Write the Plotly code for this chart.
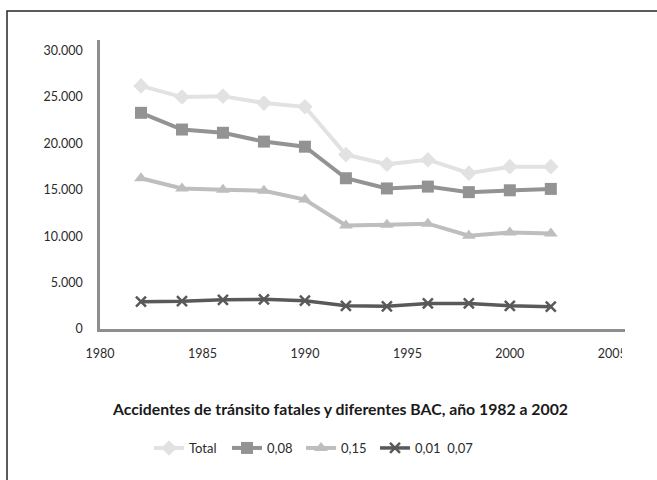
import plotly.graph_objects as go

# Fatal traffic accidents by blood alcohol concentration (BAC), 1982-2002
years = [1982, 1984, 1986, 1988, 1990, 1992, 1994, 1996, 1998, 2000, 2002]
total = [26200, 25000, 25100, 24350, 23950, 18800, 17750, 18250, 16800, 17500, 17500]
bac_008 = [23300, 21500, 21150, 20200, 19650, 16250, 15150, 15350, 14750, 14950, 15100]
bac_015 = [16250, 15150, 15000, 14900, 13950, 11150, 11250, 11350, 10050, 10400, 10300]
bac_001_007 = [2950, 3000, 3150, 3200, 3050, 2500, 2450, 2750, 2750, 2500, 2400]

series_names = ["Total", "0,08", "0,15", "0,01  0,07"]
x_ticks = [1980, 1985, 1990, 1995, 2000, 2005]
y_ticks = [0, 5000, 10000, 15000, 20000, 25000, 30000]
title_text = "Accidentes de tránsito fatales y diferentes BAC, año 1982 a 2002"

FONT = "Lato"
TEXT_COLOR = "#2b2b2b"
AXIS_COLOR = "#8e8e8e"

styles = [
    dict(color="#e2e2e2", symbol="diamond", size=12, width=4),
    dict(color="#939393", symbol="square", size=12, width=4),
    dict(color="#bebebe", symbol="triangle-up", size=12, width=4),
    dict(color="#595959", symbol="x-thin", size=10, width=3.5),
]

W, H = 657, 480
ML, MR, MT, MB = 100, 32, 40, 151
pw, ph = W - ML - MR, H - MT - MB


def px_x(p):
    return (p - ML) / pw


def px_y(p):
    return (H - MB - p) / ph


# one single-entry legend per series, laid out in a row under the title
legend_ids = ["legend", "legend2", "legend3", "legend4"]
legend_left_px = [149, 227, 301, 375]

fig = go.Figure()
for name, values, st, lid in zip(series_names, [total, bac_008, bac_015, bac_001_007],
                                 styles, legend_ids):
    marker = dict(symbol=st["symbol"], size=st["size"], color=st["color"])
    if st["symbol"] == "x-thin":
        marker["line"] = dict(color=st["color"], width=2.5)
    fig.add_trace(go.Scatter(
        x=years, y=values, name=name, mode="lines+markers",
        line=dict(color=st["color"], width=st["width"]),
        marker=marker, legend=lid,
    ))

legends = {
    lid: dict(
        orientation="h", x=px_x(lx), xanchor="left", y=px_y(448), yanchor="middle",
        font=dict(family=FONT, size=13, color=TEXT_COLOR),
        itemclick=False, bgcolor="rgba(0,0,0,0)",
    )
    for lid, lx in zip(legend_ids, legend_left_px)
}

fig.update_layout(
    width=W, height=H,
    margin=dict(l=ML, r=MR, t=MT, b=MB),
    paper_bgcolor="white", plot_bgcolor="white",
    separators=",.",
    font=dict(family=FONT, size=12.5, color=TEXT_COLOR),
    showlegend=True,
    **legends,
    xaxis=dict(
        range=[1980, 2005.62], tickvals=x_ticks, showgrid=False, zeroline=False,
        showline=True, linecolor=AXIS_COLOR, linewidth=2.5, ticks="",
        ticklabelstandoff=11, tickfont=dict(family=FONT, size=12.5, color=TEXT_COLOR),
    ),
    yaxis=dict(
        range=[0, 31150], tickvals=y_ticks, tickformat=",d", showgrid=False,
        zeroline=False, showline=True, linecolor=AXIS_COLOR, linewidth=2.5,
        ticks="", ticklabelstandoff=12, tickfont=dict(family=FONT, size=12.5, color=TEXT_COLOR),
    ),
    annotations=[dict(
        text="<b>" + title_text + "</b>", xref="paper", yref="paper",
        x=px_x(340), y=px_y(408), xanchor="center", yanchor="middle",
        showarrow=False, font=dict(family=FONT, size=15.8, color="#1a1a1a"),
    )],
    shapes=[
        # outer chart frame
        dict(type="rect", xref="paper", yref="paper",
             x0=px_x(7), x1=px_x(700), y0=px_y(11), y1=px_y(520),
             line=dict(color="#262626", width=1.5), layer="below"),
        # the chart area ends at the right end of the category axis
        dict(type="rect", xref="paper", yref="paper",
             x0=px_x(622), x1=px_x(700), y0=px_y(340), y1=px_y(365),
             line=dict(width=0), fillcolor="white", layer="above"),
    ],
)

fig.write_html("out.html")
